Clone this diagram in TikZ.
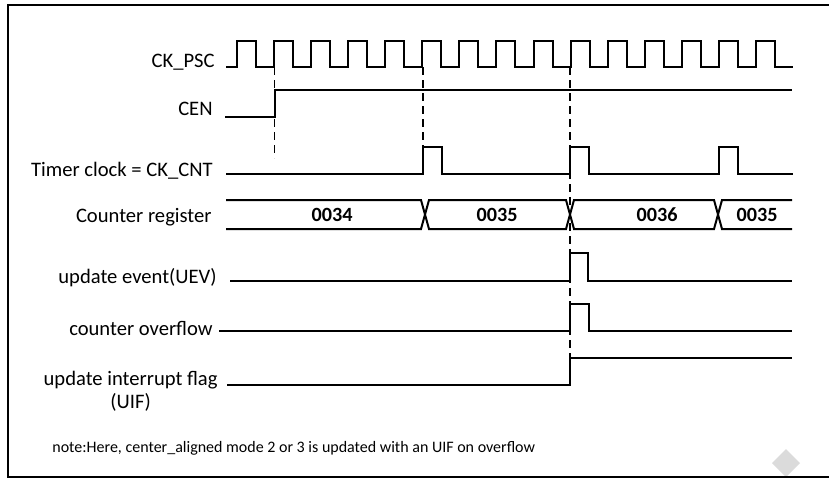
\documentclass[tikz,border=0pt]{standalone}
\usepackage{fontspec}
\setmainfont{Carlito}
\usetikzlibrary{positioning}

\begin{document}
\begin{tikzpicture}[x=0.5pt, y=-0.5pt,
        sig/.style={line width=1pt},
        guide/.style={line width=0.9pt, dash pattern=on 4pt off 2.5pt},
        lbl/.style={anchor=base east, inner sep=0pt, font=\fontsize{10.3}{11.5}\selectfont},
        val/.style={inner sep=0pt, font=\bfseries\fontsize{10.1}{12}\selectfont}]
                \useasboundingbox (0,0) rectangle (829,479);
                % watermark and frame
                \fill[gray!28] (786,449) -- (800,463) -- (786,477) -- (772,463) -- cycle;
                \draw[line width=1pt] (829,5) -- (8,5) -- (8,477) -- (829,477);

                % signal names
                \node[lbl] (psc) at (215,67) {CK\_PSC};
                \node[lbl] (cen) at (213,115) {CEN};
                \node[lbl] (cnt) at (213,176) {Timer clock = CK\_CNT};
                \node[lbl] (reg) at (212,222) {Counter register};
                \node[lbl] (uev) at (217,283) {update event(UEV)};
                \node[lbl] (ovf) at (213,335) {counter overflow};
                \node[lbl, anchor=east, align=center] (uif) at (218,391) {update interrupt flag\\(UIF)};

                % waveforms
                \draw[sig] (226,67) foreach \i in {0,...,14} { -- ({237+37.07*\i},67) -- ++(0,-26) -- ++(19,0) -- ++(0,26) } -- (793,67);
                \draw[sig] (225,117) -- (275,117) -- (275,90) -- (792,90);
                \draw[sig] (226,174) -- (423,174) -- (423,147) -- (442,147) -- (442,174)
                        -- (570,174) -- (570,147) -- (589,147) -- (589,174)
                        -- (719,174) -- (719,147) -- (738,147) -- (738,174) -- (793,174);
                \draw[sig] (226,200) -- (421,200) -- (425,214.5) -- (421,229) -- (226,229);
                \draw[sig] (425,214.5) -- (429,200) -- (566,200) -- (570,214.5) -- (566,229) -- (429,229) -- cycle;
                \draw[sig] (570,214.5) -- (574,200) -- (714,200) -- (718,214.5) -- (714,229) -- (574,229) -- cycle;
                \draw[sig] (792,200) -- (722,200) -- (718,214.5) -- (722,229) -- (792,229);
                \draw[sig] (230,281) -- (570,281) -- (570,253) -- (588,253) -- (588,281) -- (792,281);
                \draw[sig] (219,331) -- (570,331) -- (570,304) -- (589,304) -- (589,331) -- (792,331);
                \draw[sig] (227,385) -- (570,385) -- (570,358) -- (792,358);

                % register values
                \node[val] (v34) at (332,215) {0034};
                \node[val] (v35) at (497,215) {0035};
                \node[val] (v36) at (657,215) {0036};
                \node[val] (v35b) at (757,215) {0035};

                % alignment marks
                \draw[guide] (274.5,67) -- (274.5,158);
                \draw[guide] (423,67) -- (423,147);
                \draw[guide] (570,67) -- (570,358);

                \node[anchor=base west, inner sep=0pt, font=\fontsize{8}{9.5}\selectfont] (note) at (52,452)
                        {note:Here, center\_aligned mode 2 or 3 is updated with an UIF on overflow};
            \end{tikzpicture}
\end{document}
